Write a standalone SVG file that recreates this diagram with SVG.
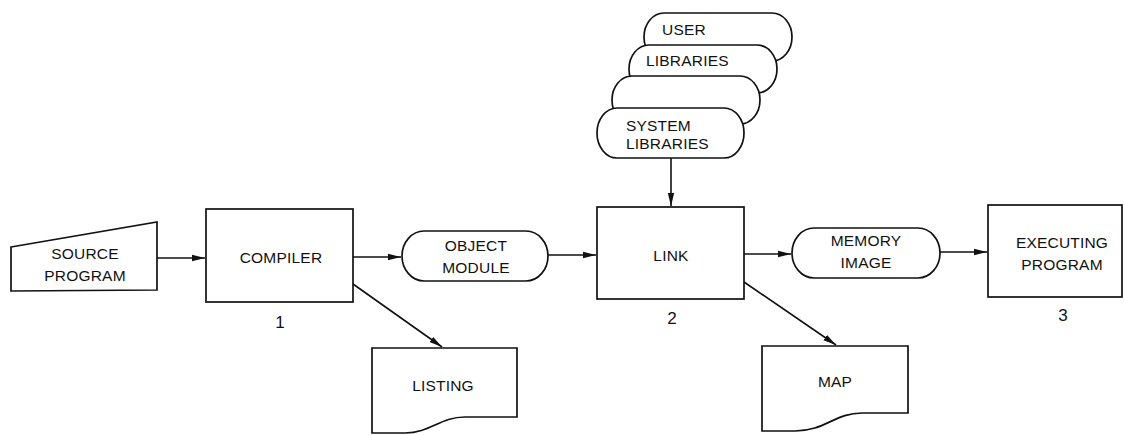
<svg xmlns="http://www.w3.org/2000/svg" width="1124" height="435" viewBox="0 0 1124 435">
<style>
.s{fill:#fff;stroke:#111;stroke-width:1.7}
.t{font-family:"Liberation Sans",Arial,sans-serif;font-size:15.5px;fill:#111;letter-spacing:0.2px}
.n{font-size:17px}
.c{text-anchor:middle}
.e{stroke:#111;stroke-width:1.6;fill:none;marker-end:url(#ah)}
</style>
<defs>
<marker id="ah" markerWidth="14" markerHeight="8" refX="13" refY="4" orient="auto" markerUnits="userSpaceOnUse">
<path d="M0,0.8 L13,4 L0,7.2 Z" fill="#111"/>
</marker>
</defs>
<rect width="1124" height="435" fill="#fff"/>
<g id="connectors">
<path class="e" d="M157,258 H205"/>
<path class="e" d="M353,257 H401"/>
<path class="e" d="M353,284 L442,347"/>
<path class="e" d="M548,255 H596"/>
<path class="e" d="M671,158 V206"/>
<path class="e" d="M744,254 H791"/>
<path class="e" d="M744,282 L836,345"/>
<path class="e" d="M940,252 H987"/>
</g>
<g id="source-program">
<path class="s" d="M11,247 L157,222 V290 L11,291 Z"/>
<text class="t c" x="85" y="259">SOURCE</text>
<text class="t c" x="85" y="281">PROGRAM</text>
</g>
<g id="compiler">
<rect class="s" x="206" y="209" width="147" height="93"/>
<text class="t c" x="281" y="263">COMPILER</text>
<text class="t n c" x="280" y="328">1</text>
</g>
<g id="object-module">
<rect class="s" x="402" y="231" width="146" height="50" rx="22" ry="25"/>
<text class="t c" x="476" y="251">OBJECT</text>
<text class="t c" x="476" y="273">MODULE</text>
</g>
<g id="listing">
<path class="s" d="M372,348 H517 V417 H465 C440,417 430,433 405,433 H372 Z"/>
<text class="t c" x="443" y="391">LISTING</text>
</g>
<g id="user-libraries">
<rect class="s" x="644" y="13" width="148" height="48" rx="20" ry="24"/>
<text class="t" x="662" y="35">USER</text>
</g>
<g id="libraries-2">
<rect class="s" x="629" y="45" width="148" height="48" rx="20" ry="24"/>
<text class="t" x="646" y="66">LIBRARIES</text>
</g>
<g id="libraries-3">
<rect class="s" x="612" y="76" width="148" height="48" rx="20" ry="24"/>
</g>
<g id="system-libraries">
<rect class="s" x="597" y="108" width="147" height="50" rx="20" ry="25"/>
<text class="t" x="626" y="131">SYSTEM</text>
<text class="t" x="626" y="149">LIBRARIES</text>
</g>
<g id="link">
<rect class="s" x="597" y="207" width="147" height="92"/>
<text class="t c" x="671" y="261">LINK</text>
<text class="t n c" x="672" y="324">2</text>
</g>
<g id="memory-image">
<rect class="s" x="792" y="228" width="148" height="50" rx="22" ry="25"/>
<text class="t c" x="866" y="246">MEMORY</text>
<text class="t c" x="866" y="268">IMAGE</text>
</g>
<g id="map">
<path class="s" d="M762,346 H908 V413 H862 C835,413 825,431 795,431 H762 Z"/>
<text class="t c" x="835" y="387">MAP</text>
</g>
<g id="executing-program">
<rect class="s" x="988" y="205" width="134" height="92"/>
<text class="t c" x="1062" y="248">EXECUTING</text>
<text class="t c" x="1062" y="270">PROGRAM</text>
<text class="t n c" x="1063" y="321">3</text>
</g>
</svg>
